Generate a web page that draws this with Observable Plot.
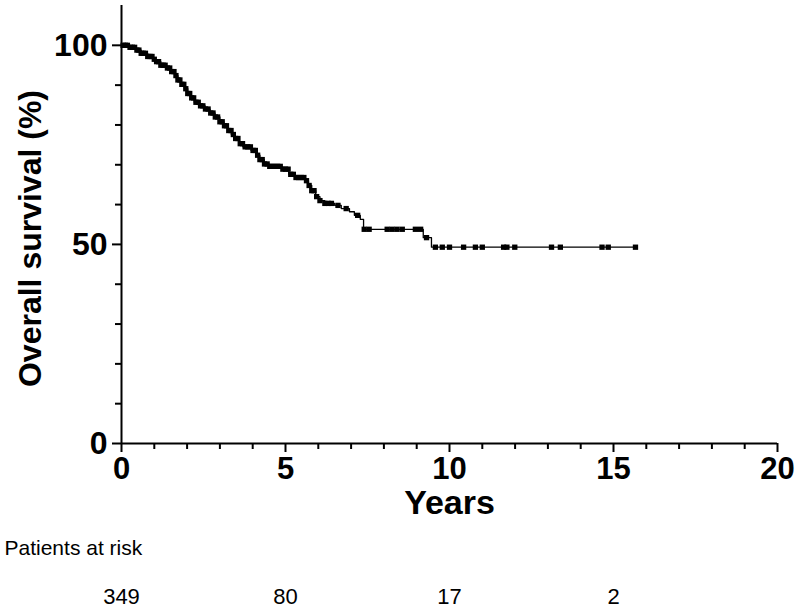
<!DOCTYPE html>
<html>
<head>
<meta charset="utf-8">
<script src="https://cdn.jsdelivr.net/npm/d3@7"></script>
<script src="https://cdn.jsdelivr.net/npm/@observablehq/plot@0.6"></script>
<style>
  html, body { margin: 0; padding: 0; background: #fff; }
  #chart svg { display: block; }
</style>
</head>
<body>
<div id="chart"></div>
<script>
// Kaplan–Meier step changes (years, % surviving)
const stepTimes = [0, 0.25, 0.45, 0.6, 0.8, 0.95, 1.05, 1.2, 1.35, 1.5, 1.62, 1.72, 1.82, 1.92, 2.02, 2.12, 2.22, 2.35, 2.55, 2.7, 2.85, 3.0, 3.12, 3.25, 3.35, 3.45, 3.58, 3.7, 3.95, 4.1, 4.22, 4.35, 4.5, 4.9, 5.1, 5.3, 5.6, 5.7, 5.8, 5.92, 6.05, 6.2, 6.5, 6.7, 6.95, 7.1, 7.28, 7.38, 9.2, 9.45, 15.67];
const stepSurvival = [100, 99.5, 98.8, 98.0, 97.2, 96.5, 95.9, 95.0, 94.3, 93.4, 92.4, 91.3, 90.2, 89.1, 87.9, 86.8, 85.7, 84.8, 84.0, 83.0, 82.0, 80.8, 79.8, 78.6, 77.6, 76.6, 75.3, 74.5, 73.6, 72.4, 71.3, 70.2, 69.6, 68.9, 67.6, 66.8, 66.0, 64.8, 63.5, 62.0, 61.0, 60.3, 59.8, 59.0, 58.2, 57.3, 56.3, 53.8, 51.7, 49.3, 49.3];

// Censoring times (years)
const censorTimes = [0.05, 0.12, 0.18, 0.26, 0.33, 0.4, 0.47, 0.53, 0.6, 0.66, 0.73, 0.8, 0.87, 0.93, 1.0, 1.07, 1.13, 1.2, 1.27, 1.33, 1.4, 1.47, 1.53, 1.6, 1.66, 1.72, 1.78, 1.84, 1.9, 1.96, 2.02, 2.08, 2.14, 2.2, 2.27, 2.34, 2.41, 2.48, 2.56, 2.64, 2.72, 2.79, 2.86, 2.93, 3.0, 3.07, 3.14, 3.2, 3.27, 3.34, 3.41, 3.48, 3.55, 3.62, 3.69, 3.77, 3.85, 3.93, 4.01, 4.08, 4.15, 4.22, 4.29, 4.36, 4.44, 4.52, 4.6, 4.68, 4.76, 4.84, 4.92, 5.0, 5.08, 5.16, 5.24, 5.32, 5.4, 5.48, 5.56, 5.64, 5.72, 5.8, 5.87, 5.95, 6.05, 6.2, 6.3, 6.4, 6.6, 6.85, 7.2, 7.4, 7.55, 8.1, 8.25, 8.4, 8.56, 8.96, 9.12, 9.3, 9.57, 9.78, 10.0, 10.43, 10.79, 11.0, 11.65, 11.75, 11.99, 13.11, 13.38, 14.65, 14.84, 15.67];

// Axis ticks
const xMajorTicks = [0, 5, 10, 15, 20];
const xMinorTicks = [1, 2, 3, 4, 6, 7, 8, 9, 11, 12, 13, 14, 16, 17, 18, 19];
const yMajorTicks = [0, 50, 100];
const yMinorTicks = [10, 20, 30, 40, 60, 70, 80, 90];

// Patients at risk
const atRiskTimes = [0, 5, 10, 15];
const atRiskCounts = [349, 80, 17, 2];

const xLabel = "Years";
const yLabel = "Overall survival (%)";
const atRiskTitle = "Patients at risk";

const steps = stepTimes.map((t, i) => ({t, s: stepSurvival[i]}));
const survAt = (t) => {
  let s = stepSurvival[0];
  for (let i = 0; i < stepTimes.length; i++) if (stepTimes[i] <= t) s = stepSurvival[i];
  return s;
};
const censors = censorTimes.map(t => ({t, s: survAt(t)}));
const atRisk = atRiskTimes.map((t, i) => ({t, n: atRiskCounts[i]}));

const font = "'Liberation Sans', Arial, Helvetica, sans-serif";

const chart = Plot.plot({
  width: 800,
  height: 608,
  marginLeft: 121,
  marginRight: 23,
  marginTop: 5,
  marginBottom: 165,
  style: {fontFamily: font, background: "#fff", color: "#000"},
  x: {domain: [0, 20]},
  y: {domain: [0, 110]},
  marks: [
    Plot.axisX(xMinorTicks, {tickSize: 6, strokeWidth: 2, tickFormat: () => "", label: null}),
    Plot.axisX(xMajorTicks, {tickSize: 9, tickPadding: 4, strokeWidth: 2, fontSize: 31, fontWeight: "bold", label: null}),
    Plot.axisY(yMinorTicks, {tickSize: 6, strokeWidth: 2, tickFormat: () => "", label: null}),
    Plot.axisY(yMajorTicks, {tickSize: 9, tickPadding: 5, strokeWidth: 2, fontSize: 32, fontWeight: "bold", label: null}),
    Plot.ruleY([0], {strokeWidth: 2}),
    Plot.ruleX([0], {strokeWidth: 2}),
    Plot.line(steps, {x: "t", y: "s", curve: "step-after", stroke: "#000", strokeWidth: 1.3}),
    Plot.dot(censors, {x: "t", y: "s", symbol: "square", r: 3, fill: "#000", stroke: null}),
    Plot.text([xLabel], {frameAnchor: "bottom", dy: 60, lineAnchor: "middle", fontSize: 34, fontWeight: "bold", fill: "#000"}),
    Plot.text([yLabel], {frameAnchor: "left", dx: -91, dy: 14, rotate: -90, textAnchor: "middle", lineAnchor: "middle", fontSize: 32, fontWeight: "bold", fill: "#000"}),
    Plot.text([atRiskTitle], {frameAnchor: "bottom-left", dx: -117, dy: 105, textAnchor: "start", lineAnchor: "middle", fontSize: 21, fill: "#000"}),
    Plot.text(atRisk, {x: "t", text: "n", frameAnchor: "bottom", dy: 153, lineAnchor: "middle", fontSize: 22, fill: "#000"})
  ]
});
document.getElementById("chart").appendChild(chart);
</script>
</body>
</html>
